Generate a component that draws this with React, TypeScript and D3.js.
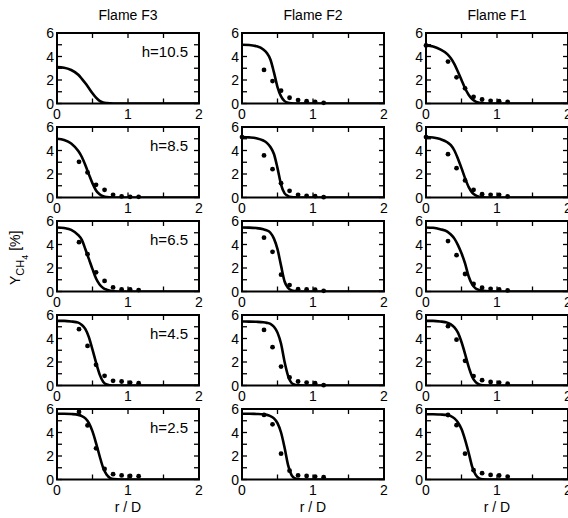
import React from "react";
import * as d3 from "d3";

const flames = ["Flame F3", "Flame F2", "Flame F1"];
const heights = ["h=10.5", "h=8.5", "h=6.5", "h=4.5", "h=2.5"];

const xTicks = [0, 0.5, 1, 1.5, 2];
const xTickLabels = [0, 1, 2];
const yTicks = [0, 1, 2, 3, 4, 5, 6];
const yTickLabels = [0, 2, 4, 6];

// radial grid for the model curves (r / D)
const curveR = [0, 0.1, 0.2, 0.3, 0.35, 0.4, 0.45, 0.5, 0.55, 0.6, 0.65, 0.7, 0.75, 0.8, 0.9, 1.0, 2.0];

// model curves per row (h=10.5 ... h=2.5)
const f3Curves = [
  [3.1, 3.05, 2.85, 2.45, 2.1, 1.72, 1.3, 0.88, 0.5, 0.22, 0.08, 0.03, 0.01, 0, 0, 0, 0],
  [5.0, 4.9, 4.6, 3.95, 3.45, 2.75, 1.95, 1.2, 0.6, 0.27, 0.1, 0.03, 0.01, 0, 0, 0, 0],
  [5.45, 5.4, 5.25, 4.8, 4.4, 3.6, 2.75, 1.9, 1.1, 0.6, 0.3, 0.15, 0.06, 0.02, 0, 0, 0],
  [5.5, 5.5, 5.45, 5.35, 5.15, 4.8, 4.1, 3.05, 1.95, 0.95, 0.32, 0.08, 0.02, 0, 0, 0, 0],
  [5.6, 5.6, 5.57, 5.5, 5.4, 5.2, 4.8, 4.1, 3.1, 2.0, 1.0, 0.4, 0.12, 0.03, 0, 0, 0],
];
const f2Curves = [
  [5.0, 4.98, 4.88, 4.6, 4.3, 3.75, 2.65, 1.4, 0.6, 0.2, 0.06, 0.02, 0, 0, 0, 0, 0],
  [5.15, 5.12, 5.05, 4.85, 4.65, 4.3, 3.7, 2.5, 1.1, 0.35, 0.12, 0.04, 0.01, 0, 0, 0, 0],
  [5.45, 5.44, 5.4, 5.3, 5.2, 5.0, 4.5, 3.6, 2.2, 0.85, 0.3, 0.1, 0.03, 0, 0, 0, 0],
  [5.45, 5.44, 5.42, 5.38, 5.33, 5.25, 5.0, 4.5, 3.55, 2.0, 0.8, 0.2, 0.05, 0.01, 0, 0, 0],
  [5.6, 5.6, 5.58, 5.55, 5.5, 5.4, 5.2, 4.8, 4.0, 2.7, 1.2, 0.35, 0.08, 0.02, 0, 0, 0],
];
const f1Curves = [
  [4.95, 4.85, 4.6, 4.2, 3.85, 3.35, 2.7, 2.0, 1.3, 0.75, 0.38, 0.16, 0.06, 0.02, 0, 0, 0],
  [5.15, 5.1, 4.97, 4.7, 4.45, 4.0, 3.3, 2.5, 1.65, 0.9, 0.42, 0.18, 0.06, 0.02, 0, 0, 0],
  [5.45, 5.42, 5.3, 5.1, 4.85, 4.5, 3.95, 3.25, 2.4, 1.3, 0.6, 0.25, 0.12, 0.05, 0.01, 0, 0],
  [5.5, 5.5, 5.45, 5.35, 5.2, 4.95, 4.5, 3.7, 2.7, 1.6, 0.75, 0.28, 0.08, 0.02, 0, 0, 0],
  [5.55, 5.55, 5.53, 5.5, 5.4, 5.2, 4.85, 4.3, 3.4, 2.3, 1.1, 0.4, 0.1, 0.02, 0, 0, 0],
];

// measured points
const measR = [0.31, 0.43, 0.55, 0.67, 0.79, 0.91, 1.03, 1.15];
const f3Meas = [
  null,
  [3.04, 2.13, 1.08, 0.65, 0.23, 0.09, 0.06, 0.06],
  [4.2, 3.18, 1.63, 0.9, 0.35, 0.17, 0.17, 0.12],
  [4.79, 3.37, 1.76, 0.82, 0.4, 0.34, 0.25, 0.2],
  [5.75, 4.6, 2.65, 0.9, 0.45, 0.35, 0.3, 0.28],
];
const f2Meas = [
  [2.86, 1.91, 1.09, 0.49, 0.29, 0.2, 0.14, 0.06],
  [3.58, 2.41, 1.22, 0.57, 0.23, 0.14, 0.11, 0.03],
  [4.58, 3.38, 1.43, 0.55, 0.2, 0.17, 0.15, 0.06],
  [4.73, 3.26, 1.61, 0.68, 0.34, 0.25, 0.2, 0.03],
  [5.5, 4.7, 2.2, 0.75, 0.35, 0.3, 0.25, 0.2],
];
const f1Meas = [
  [3.57, 2.23, 1.29, 0.57, 0.34, 0.23, 0.2, 0.14],
  [3.69, 2.5, 1.45, 0.65, 0.28, 0.23, 0.23, 0.09],
  [4.29, 3.09, 1.49, 0.64, 0.32, 0.23, 0.17, 0.09],
  [5.05, 3.9, 2.1, 0.8, 0.45, 0.3, 0.25, 0.15],
  [5.49, 4.62, 2.2, 0.79, 0.54, 0.39, 0.34, 0.25],
];
// centreline (r = 0) measurements
const f3Center = [null, null, null, null, null];
const f2Center = [null, 5.14, null, null, null];
const f1Center = [4.94, 5.14, null, null, null];

const curvesByCol = [f3Curves, f2Curves, f1Curves];
const measByCol = [f3Meas, f2Meas, f1Meas];
const centerByCol = [f3Center, f2Center, f1Center];

const W = 568;
const H = 518;
const colLeft = [57, 242, 426];
const rowTop0 = 33;
const rowStep = 94;
const pw = 142;
const ph = 70.5;
const FONT = "'Liberation Sans', Arial, Helvetica, sans-serif";

function Panel({ col, row }: { col: number; row: number }) {
  const x0 = colLeft[col];
  const y0 = rowTop0 + row * rowStep;
  const x = d3.scaleLinear().domain([0, 2]).range([x0, x0 + pw]);
  const y = d3.scaleLinear().domain([0, 6]).range([y0 + ph, y0]);
  const line = d3
    .line<number>()
    .x((_, i) => x(curveR[i]))
    .y((d) => y(d))
    .curve(d3.curveMonotoneX);
  const curve = curvesByCol[col][row];
  const meas = measByCol[col][row];
  const center = centerByCol[col][row];
  const tl = 5;
  const clipId = `clip-${col}-${row}`;
  return (
    <g>
      <defs>
        <clipPath id={clipId}>
          <rect x={x0} y={y0 - 3} width={pw} height={ph + 3} />
        </clipPath>
      </defs>
      <g clipPath={`url(#${clipId})`}>
        <path d={line(curve) || ""} fill="none" stroke="#000" strokeWidth={2.6} />
      </g>
      {meas &&
        meas.map((v, i) => (
          <circle key={i} cx={x(measR[i])} cy={y(v)} r={2.4} fill="#000" />
        ))}
      {center !== null && <circle cx={x(0)} cy={y(center)} r={2.4} fill="#000" />}
      {xTicks.map((t) => (
        <g key={"xt" + t}>
          <line x1={x(t)} x2={x(t)} y1={y(0)} y2={y(0) - tl} stroke="#000" strokeWidth={1.3} />
          <line x1={x(t)} x2={x(t)} y1={y(6)} y2={y(6) + tl} stroke="#000" strokeWidth={1.3} />
        </g>
      ))}
      {yTicks.map((t) => (
        <g key={"yt" + t}>
          <line x1={x(0)} x2={x(0) + tl} y1={y(t)} y2={y(t)} stroke="#000" strokeWidth={1.3} />
          <line x1={x(2)} x2={x(2) - tl} y1={y(t)} y2={y(t)} stroke="#000" strokeWidth={1.3} />
        </g>
      ))}
      <rect x={x0} y={y0} width={pw} height={ph} fill="none" stroke="#000" strokeWidth={2} />
      {xTickLabels.map((t) => (
        <text key={"xl" + t} x={x(t)} y={y(0) + 15} textAnchor="middle" fontSize={14} fontFamily={FONT}>
          {t}
        </text>
      ))}
      {yTickLabels.map((t) => (
        <text key={"yl" + t} x={x0 - 3} y={y(t) + 5} textAnchor="end" fontSize={14} fontFamily={FONT}>
          {t}
        </text>
      ))}
      {col === 0 && (
        <text x={x0 + pw - 11} y={y0 + 24} textAnchor="end" fontSize={15} fontFamily={FONT}>
          {heights[row]}
        </text>
      )}
    </g>
  );
}

export default function App() {
  const rows = d3.range(heights.length);
  const cols = d3.range(flames.length);
  return (
    <svg
      width={W}
      height={H}
      viewBox={`0 0 ${W} ${H}`}
      style={{ position: "absolute", left: 0, top: 0, background: "#fff" }}
    >
      <rect x={0} y={0} width={W} height={H} fill="#fff" />
      {cols.map((c) => (
        <text key={"t" + c} x={colLeft[c] + pw / 2} y={20} textAnchor="middle" fontSize={14} fontFamily={FONT}>
          {flames[c]}
        </text>
      ))}
      {cols.map((c) => (
        <text key={"xlab" + c} x={colLeft[c] + pw / 2} y={512} textAnchor="middle" fontSize={14} fontFamily={FONT}>
          r / D
        </text>
      ))}
      <text transform="translate(20,285) rotate(-90)" fontSize={14} fontFamily={FONT}>
        Y
        <tspan fontSize={11} dy={4}>CH</tspan>
        <tspan fontSize={9} dy={4}>4</tspan>
        <tspan dy={-8}> [%]</tspan>
      </text>
      {rows.map((r) => cols.map((c) => <Panel key={`${r}-${c}`} col={c} row={r} />))}
    </svg>
  );
}
